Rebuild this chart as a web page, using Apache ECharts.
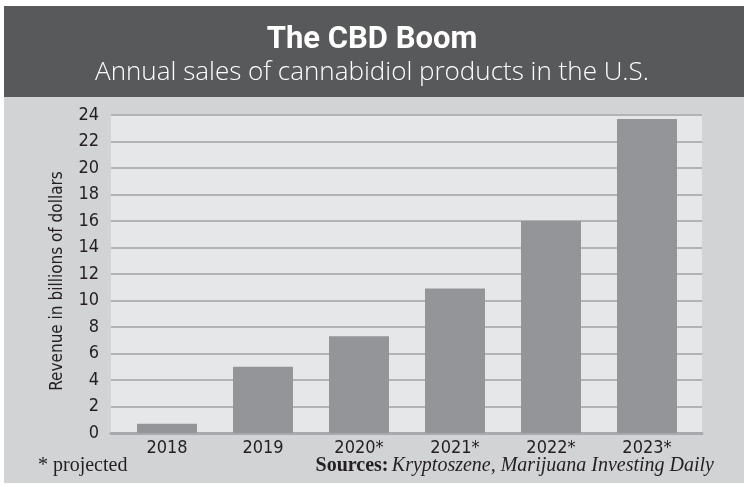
<!DOCTYPE html>
<html>
<head>
<meta charset="utf-8">
<script src="https://cdn.jsdelivr.net/npm/echarts@6/dist/echarts.min.js"></script>
<style>
  html, body { margin: 0; padding: 0; background: #ffffff; }
  #chart { width: 744px; height: 487px; }
</style>
</head>
<body>
<div id="chart"></div>
<script>
// Annual CBD sales in the U.S., billions of dollars (starred years are projections)
const years = ['2018', '2019', '2020*', '2021*', '2022*', '2023*'];
const revenue = [0.7, 5.0, 7.3, 10.9, 16.0, 23.7];
const yTicks = [0, 2, 4, 6, 8, 10, 12, 14, 16, 18, 20, 22, 24];

const narrow = "'Liberation Sans Narrow', 'DejaVu Sans Condensed', 'Arial Narrow', sans-serif";
const serif = "'Liberation Serif', 'DejaVu Serif', serif";
const ink = '#231f20';

const chart = echarts.init(document.getElementById('chart'), null, { renderer: 'canvas' });

chart.setOption({
  animation: false,
  backgroundColor: '#ffffff',
  title: [
    {
      text: 'The CBD Boom',
      left: 'center',
      top: 20,
      textStyle: { color: '#ffffff', fontFamily: 'Roboto', fontWeight: 'bold', fontSize: 31 }
    },
    {
      text: 'Annual sales of cannabidiol products in the U.S.',
      left: 'center',
      top: 55,
      textStyle: { color: '#ffffff', fontFamily: "'Open Sans'", fontWeight: 300, fontSize: 26 }
    }
  ],
  graphic: [
    { type: 'rect', z: -20, silent: true, shape: { x: 4, y: 6, width: 740, height: 477 }, style: { fill: '#d1d3d4' } },
    { type: 'rect', z: -19, silent: true, shape: { x: 4, y: 6, width: 740, height: 91 }, style: { fill: '#58595b' } },
    {
      type: 'text', left: 38, top: 456,
      style: { text: '* projected', fill: ink, font: '20px ' + serif }
    },
    {
      type: 'text', right: 30, top: 456,
      style: {
        text: '{b|Sources:} {i|Kryptoszene, Marijuana Investing Daily}',
        fill: ink,
        rich: {
          b: { fontFamily: serif, fontWeight: 'bold', fontSize: 20, fill: ink },
          i: { fontFamily: serif, fontStyle: 'italic', fontSize: 20, fill: ink }
        }
      }
    }
  ],
  grid: [
    // full plot panel with gridlines
    { left: 111, right: 42, top: 115, bottom: 54, show: true, backgroundColor: '#e6e7e8', borderWidth: 0 },
    // bar layout
    { left: 119, right: 49, top: 115, bottom: 54 }
  ],
  xAxis: [
    {
      type: 'category', gridIndex: 0, data: years,
      axisLine: { show: true, lineStyle: { color: '#a7a9ac', width: 3 } },
      axisTick: { show: false }, axisLabel: { show: false }, splitLine: { show: false }
    },
    {
      type: 'category', gridIndex: 1, data: years,
      axisLine: { show: false }, axisTick: { show: false },
      axisLabel: { color: ink, fontFamily: narrow, fontSize: 18, margin: 6 }
    }
  ],
  yAxis: [
    {
      type: 'value', gridIndex: 0, min: yTicks[0], max: yTicks[yTicks.length - 1], interval: 2,
      name: 'Revenue in billions of dollars',
      nameLocation: 'middle', nameGap: 45, nameRotate: 90,
      nameTextStyle: { color: ink, fontFamily: narrow, fontSize: 17, padding: [0, 0, 0, -14] },
      axisLine: { show: false }, axisTick: { show: false },
      axisLabel: { color: ink, fontFamily: narrow, fontSize: 18, margin: 12 },
      splitLine: { show: true, lineStyle: { color: '#b1b3b5', width: 2 } }
    },
    {
      type: 'value', gridIndex: 1, min: yTicks[0], max: yTicks[yTicks.length - 1], interval: 2,
      show: false, splitLine: { show: false }
    }
  ],
  series: [
    {
      type: 'bar', xAxisIndex: 1, yAxisIndex: 1, data: revenue,
      barWidth: 60, itemStyle: { color: '#939598' }, z: 3
    }
  ]
});
</script>
</body>
</html>
